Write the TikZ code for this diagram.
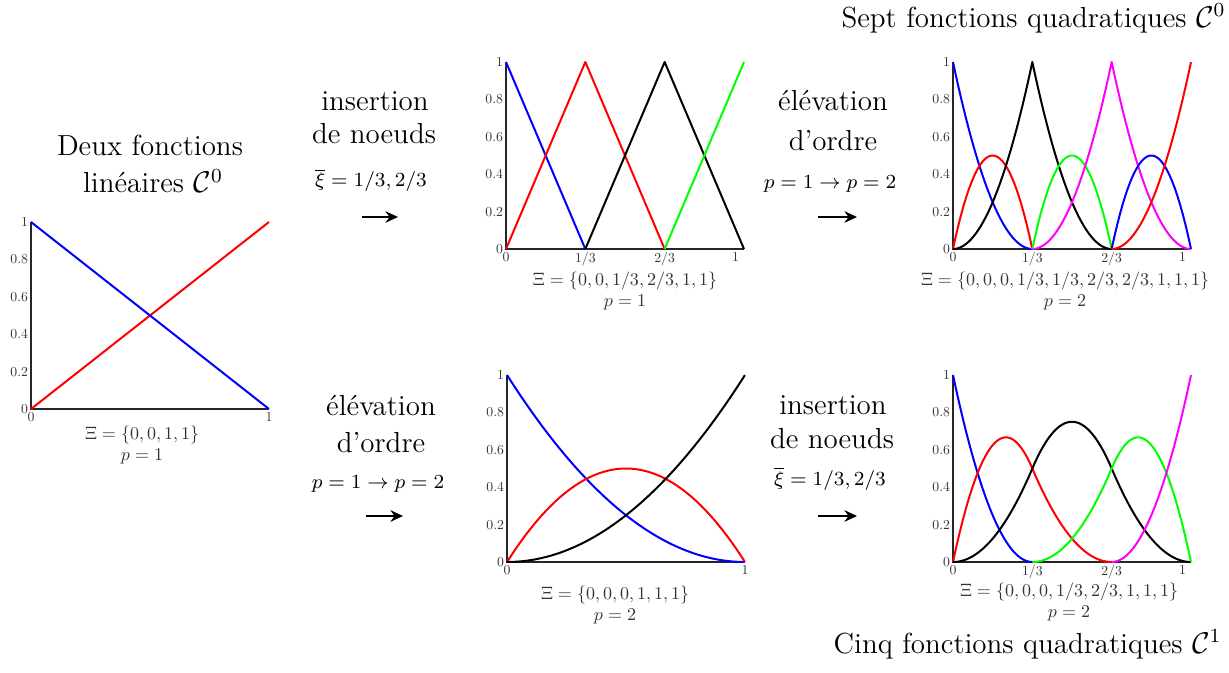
\documentclass[tikz,border=0pt]{standalone}
\usepackage{amsmath,amssymb}
\usetikzlibrary{
    positioning,      % placement relatif
    arrows.meta,      % pointes Stealth
    calc
}
\definecolor{vert}{RGB}{0,255,0}
\definecolor{rose}{RGB}{255,0,255}
\tikzset{
    axe/.style={line width=0.5pt, black!85},
    courbe/.style={line width=0.8pt, line join=round},
    graduation/.style={font=\fontsize{10}{12}\selectfont, scale=0.55, text=black!80, inner sep=2pt},
    noeuds/.style={font=\fontsize{10}{11.2}\selectfont, scale=0.72, text=black!80, align=center, inner sep=0pt},
    mot/.style={font=\fontsize{11.6}{13}\selectfont, anchor=base, inner sep=0pt},
    formule/.style={font=\fontsize{8.0}{10}\selectfont, anchor=base, inner sep=0pt},
    fleche/.style={-{Stealth[length=5pt,width=4.6pt]}, line width=0.9pt},
    graphe/.style 2 args={shift={(#1,#2)}, x=95.2pt, y=74.8pt}
}
% cadre d'un graphe : axes + graduations
\newcommand{\cadre}[2]{%
    \draw[axe] (0,1) -- (0,0) -- (1,0);
    \foreach \v [count=\i] in {0,0.2,0.4,0.6,0.8,1}
        \node[graduation, left] (#1y\i) at (0,\v) {\v};
    \foreach \p/\t [count=\i] in {#2}
        \node[graduation, below] (#1x\i) at (\p,0) {\t};
}

\begin{document}
\begin{tikzpicture}[x=0.4pt, y=-0.4pt]
    \useasboundingbox (0,0) rectangle (1229,673);

    % Graphe 1 : deux fonctions lineaires
    \begin{scope}[graphe={31}{409}]
        \cadre{g1}{0/0, 1/1}
        \draw[courbe, red] (0,0) -- (1,1);
        \draw[courbe, blue] (0,1) -- (1,0);
    \end{scope}
    \node[noeuds] (k1) at (142,445) {$\Xi=\{0,0,1,1\}$\\$p=1$};
    \node[mot] (t1a) at (150,155) {Deux fonctions};
    \node[mot] (t1b) at (153,193) {linéaires $\mathcal{C}^0$};

    % Graphe 2 : insertion de noeuds, p = 1
    \begin{scope}[graphe={506}{249}]
        \cadre{g2}{0/0, 0.3333/{1/3}, 0.6667/{2/3}, 0.965/1}
        \draw[courbe, blue] (0,1) -- (1/3,0);
        \draw[courbe, red] (0,0) -- (1/3,1) -- (2/3,0);
        \draw[courbe, black] (1/3,0) -- (2/3,1) -- (1,0);
        \draw[courbe, vert] (2/3,0) -- (1,1);
    \end{scope}
    \node[noeuds] (k2) at (625,291) {$\Xi=\{0,0,1/3,2/3,1,1\}$\\$p=1$};

    % Graphe 3 : sept fonctions quadratiques C0
    \begin{scope}[graphe={953}{249}]
        \cadre{g3}{0/0, 0.3333/{1/3}, 0.6667/{2/3}, 0.965/1}
        \draw[courbe, blue] plot[domain=0:0.33333, samples=30] (\x, {(1-3*\x)*(1-3*\x)});
        \draw[courbe, red] plot[domain=0:0.33333, samples=30] (\x, {2*(3*\x)*(1-3*\x)});
        \draw[courbe, black] plot[domain=0:0.33333, samples=30] (\x, {(3*\x)*(3*\x)})
            -- plot[domain=0.33333:0.66667, samples=30] (\x, {(2-3*\x)*(2-3*\x)});
        \draw[courbe, vert] plot[domain=0.33333:0.66667, samples=30] (\x, {2*(3*\x-1)*(2-3*\x)});
        \draw[courbe, rose] plot[domain=0.33333:0.66667, samples=30] (\x, {(3*\x-1)*(3*\x-1)})
            -- plot[domain=0.66667:1, samples=30] (\x, {(3-3*\x)*(3-3*\x)});
        \draw[courbe, blue] plot[domain=0.66667:1, samples=30] (\x, {2*(3*\x-2)*(3-3*\x)});
        \draw[courbe, red] plot[domain=0.66667:1, samples=30] (\x, {(3*\x-2)*(3*\x-2)});
    \end{scope}
    \node[noeuds] (k3) at (1065,291) {$\Xi=\{0,0,0,1/3,1/3,2/3,2/3,1,1,1\}$\\$p=2$};
    \node[mot, anchor=base east] (t3) at (1226,27) {Sept fonctions quadratiques $\mathcal{C}^0$};

    % Graphe 4 : elevation d'ordre, p = 2
    \begin{scope}[graphe={507}{562}]
        \cadre{g4}{0/0, 1/1}
        \draw[courbe, blue] plot[domain=0:1, samples=50] (\x, {(1-\x)*(1-\x)});
        \draw[courbe, red] plot[domain=0:1, samples=50] (\x, {2*\x*(1-\x)});
        \draw[courbe, black] plot[domain=0:1, samples=50] (\x, {\x*\x});
    \end{scope}
    \node[noeuds] (k4) at (615,605) {$\Xi=\{0,0,0,1,1,1\}$\\$p=2$};

    % Graphe 5 : cinq fonctions quadratiques C1
    \begin{scope}[graphe={953}{562}]
        \cadre{g5}{0/0, 0.3333/{1/3}, 0.6667/{2/3}, 0.965/1}
        \draw[courbe, blue] plot[domain=0:0.33333, samples=30] (\x, {(1-3*\x)*(1-3*\x)});
        \draw[courbe, red] plot[domain=0:0.33333, samples=30] (\x, {6*\x-13.5*\x*\x})
            -- plot[domain=0.33333:0.66667, samples=30] (\x, {0.5*(2-3*\x)*(2-3*\x)});
        \draw[courbe, black] plot[domain=0:0.33333, samples=30] (\x, {4.5*\x*\x})
            -- plot[domain=0.33333:0.66667, samples=30] (\x, {0.5*(-18*\x*\x+18*\x-3)})
            -- plot[domain=0.66667:1, samples=30] (\x, {0.5*(3-3*\x)*(3-3*\x)});
        \draw[courbe, vert] plot[domain=0.33333:0.66667, samples=30] (\x, {0.5*(3*\x-1)*(3*\x-1)})
            -- plot[domain=0.66667:1, samples=30] (\x, {2*(3-3*\x)-1.5*(3-3*\x)*(3-3*\x)});
        \draw[courbe, rose] plot[domain=0.66667:1, samples=30] (\x, {(3*\x-2)*(3*\x-2)});
    \end{scope}
    \node[noeuds] (k5) at (1069,602) {$\Xi=\{0,0,0,1/3,2/3,1,1,1\}$\\$p=2$};
    \node[mot, anchor=base east] (t5) at (1222,653) {Cinq fonctions quadratiques $\mathcal{C}^1$};

    % Operations en haut
    \node[mot] (op1a) at (375,110) {insertion};
    \node[mot] (op1b) at (374,143) {de noeuds};
    \node[formule] (op1c) at (371,187) {$\overline{\xi}=1/3,2/3$};
    \coordinate (f1a) at (362,217);
    \coordinate (f1b) at (398,217);
    \draw[fleche] (f1a) -- (f1b);

    \node[mot] (op2a) at (833,110) {élévation};
    \node[mot] (op2b) at (833,150) {d'ordre};
    \node[formule] (op2c) at (830,188) {$p=1\rightarrow p=2$};
    \coordinate (f2a) at (818,217);
    \coordinate (f2b) at (857,217);
    \draw[fleche] (f2a) -- (f2b);

    % Operations en bas
    \node[mot] (op3a) at (381,415) {élévation};
    \node[mot] (op3b) at (381,452) {d'ordre};
    \node[formule] (op3c) at (378,488) {$p=1\rightarrow p=2$};
    \coordinate (f3a) at (366,516);
    \coordinate (f3b) at (403,516);
    \draw[fleche] (f3a) -- (f3b);

    \node[mot] (op4a) at (833,414) {insertion};
    \node[mot] (op4b) at (832,448) {de noeuds};
    \node[formule] (op4c) at (830,485) {$\overline{\xi}=1/3,2/3$};
    \coordinate (f4a) at (818,516);
    \coordinate (f4b) at (857,516);
    \draw[fleche] (f4a) -- (f4b);

\end{tikzpicture}
\end{document}
